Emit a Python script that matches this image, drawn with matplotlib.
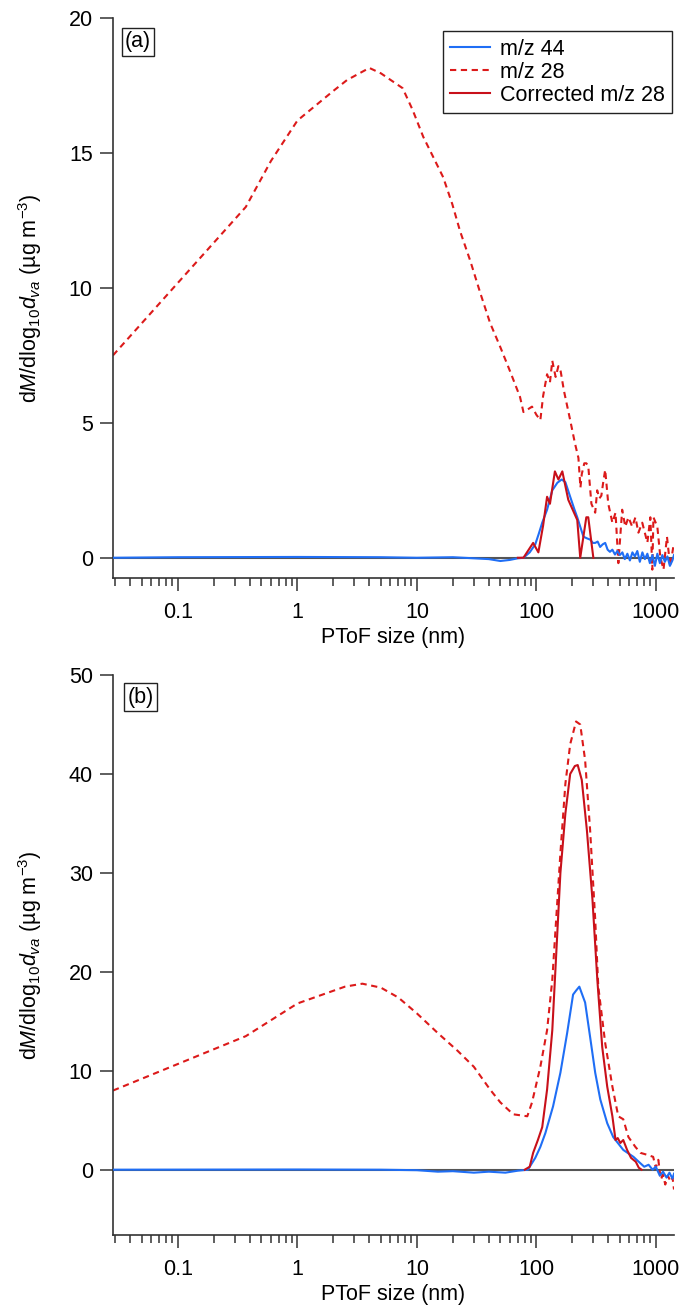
import matplotlib
matplotlib.use("Agg")
import matplotlib.pyplot as plt
from matplotlib.ticker import LogLocator, FixedLocator, NullFormatter

plt.rcParams['font.family'] = ['Liberation Sans', 'DejaVu Sans']
plt.rcParams['mathtext.fontset'] = 'custom'
plt.rcParams['mathtext.rm'] = 'Liberation Sans'
plt.rcParams['mathtext.it'] = 'Liberation Sans:italic'
plt.rcParams['mathtext.bf'] = 'Liberation Sans:bold'

# ---------------- data: panel (a) ----------------
a_x44 = [0.0286, 0.1, 1, 5, 10, 20, 30, 40, 50, 60, 70, 78, 88, 98, 105, 112,
         123, 136, 150, 163, 175, 192, 208, 220, 235, 248, 265, 283, 297, 311,
         326, 342, 360, 377, 395, 413, 433, 455, 477, 500, 525, 550, 578, 607,
         637, 668, 700, 735, 772, 810, 850, 892, 936, 983, 1030, 1082, 1135,
         1192, 1250, 1312, 1377, 1420]
a_y44 = [0.0, 0.02, 0.03, 0.02, 0.0, 0.02, -0.02, -0.05, -0.12, -0.08, -0.02, 0.0,
         0.2, 0.5, 0.9, 1.3, 1.78, 2.5, 2.78, 2.9, 2.8, 2.26, 1.8, 1.5, 1.1, 0.78,
         0.72, 0.67, 0.55, 0.55, 0.6, 0.4, 0.5, 0.55, 0.3, 0.22, 0.3, 0.12, 0.25,
         0.1, 0.2, -0.05, 0.15, -0.1, 0.2, 0.05, 0.25, -0.15, 0.2, -0.05, 0.15,
         -0.2, 0.1, -0.3, 0.15, -0.2, 0.1, -0.15, 0.05, -0.3, -0.1, 0.1]

a_x28 = [0.0286, 0.37, 0.6, 1.0, 2.0, 2.6, 4.0, 5.0, 7.6, 9.2,
         11.3, 13.7, 16.6, 19.8, 23, 28, 34, 41, 50, 61,
         73, 78, 85, 92, 100, 108, 114, 123, 130, 136,
         145, 153, 160, 170, 192, 210, 225, 234, 240, 252,
         262, 272, 289, 311, 323, 337, 350, 363, 377, 400,
         433, 460, 486, 523, 555, 590, 635, 675, 715, 770,
         850, 900, 935, 955, 1030, 1090, 1160, 1240, 1320, 1400]
a_y28 = [7.5, 13.0, 14.7, 16.2, 17.3, 17.7, 18.15, 17.95, 17.4, 16.6,
         15.6, 14.85, 14.1, 13.1, 12.1, 11.0, 9.8, 8.7, 7.8, 6.85,
         5.96, 5.4, 5.5, 5.6, 5.3, 5.1, 6.0, 6.8, 6.5, 7.3,
         6.7, 7.1, 6.9, 6.2, 5.1, 4.26, 3.7, 2.6, 3.1, 3.5,
         3.5, 3.4, 2.0, 1.67, 2.5, 2.2, 2.3, 2.8, 3.26, 2.0,
         1.3, 1.67, -0.2, 1.78, 1.15, 1.5, 1.15, 1.5, 0.93, 1.3,
         0.56, 1.5, -0.44, 1.5, 1.15, 0.04, -0.44, 0.78, -0.33, 0.4]

a_xc28 = [70, 78, 94, 104, 114, 123, 130, 143, 153, 165, 185, 220, 233,
          262, 272, 300]
a_yc28 = [0.0, 0.0, 0.55, 0.2, 1.2, 2.26, 2.0, 3.2, 2.9, 3.2, 2.15, 1.4, 0.0,
          1.5, 1.5, 0.0]

# ---------------- data: panel (b) ----------------
b_x44 = [0.0286, 1, 5, 10, 15, 20, 30, 40, 55, 70, 85, 98, 108, 119, 138, 159,
         181, 203, 215, 229, 256, 282, 311, 343, 392, 440, 534, 650, 720, 800,
         870, 940, 1000, 1080, 1150, 1230, 1300, 1380, 1420]
b_y44 = [0.0, 0.02, 0.0, -0.05, -0.2, -0.15, -0.3, -0.2, -0.3, -0.1, 0.0, 1.2,
         2.3, 3.7, 6.4, 9.8, 13.8, 17.7, 18.1, 18.5, 16.9, 13.4, 9.8, 7.1, 4.7,
         3.3, 2.0, 1.3, 0.8, 0.3, 0.5, 0.0, 0.3, -0.6, -0.2, -0.8, -0.3, -0.9, -0.4]

b_x28 = [0.0286, 0.37, 1.0, 2.5, 3.5, 5.0, 7.0, 10, 15, 22,
         30, 41, 50, 64, 84, 92, 108, 123, 136, 159,
         175, 192, 215, 233, 256, 282, 311, 330, 377, 433,
         485, 534, 590, 675, 745, 850, 950, 1000, 1050, 1100,
         1150, 1200, 1260, 1330, 1380, 1420]
b_y28 = [8.0, 13.5, 16.8, 18.5, 18.8, 18.4, 17.4, 15.8, 13.8, 12.0,
         10.4, 8.1, 6.8, 5.6, 5.4, 6.8, 10.4, 14.1, 19.2, 32.0,
         39.0, 43.0, 45.3, 45.0, 41.4, 34.3, 25.3, 18.5, 12.8, 8.4,
         5.4, 5.1, 3.3, 2.3, 1.7, 1.5, 1.3, 0.2, 1.0, -1.0,
         -0.5, -1.5, -0.6, -1.2, -0.8, -2.0]

b_xc28 = [80, 88, 94, 103, 112, 123, 136, 143, 159, 175, 192, 210, 222, 240,
          265, 295, 324, 356, 392, 433, 460, 480, 505, 534, 575, 620, 680, 720,
          760]
b_yc28 = [0.0, 0.3, 1.7, 3.0, 4.3, 8.1, 14.1, 19.2, 30.0, 36.0, 40.0, 40.8,
          40.9, 39.4, 34.3, 27.3, 19.2, 12.4, 8.4, 5.4, 3.0, 3.2, 2.7, 3.0, 2.0,
          1.2, 0.8, 0.2, 0.0]

x_ticks = [0.1, 1, 10, 100, 1000]
x_ticklabels = ['0.1', '1', '10', '100', '1000']
a_yticks = [0, 5, 10, 15, 20]
b_yticks = [0, 10, 20, 30, 40, 50]
legend_labels = ['m/z 44', 'm/z 28', 'Corrected m/z 28']

BLUE = '#1f6ef5'
RED = '#c8101a'
RED_D = '#dc1a1a'
FS = 15.5

W, H = 684, 1310
fig = plt.figure(figsize=(W / 100, H / 100), dpi=100)


def add_ax(top_px, bottom_px):
    left, right = 113, 674
    return fig.add_axes([left / W, 1 - bottom_px / H, (right - left) / W,
                         (bottom_px - top_px) / H])


ylabel = r'd$\mathit{M}$/dlog$_{10}$$\mathit{d}_{\mathit{va}}$ (µg m$^{-3}$)'


def style(ax, ylim, yticks, tag, tag_xy):
    ax.set_xscale('log')
    ax.set_xlim(0.0286, 1420)
    ax.set_ylim(*ylim)
    ax.axhline(0, color='#555555', lw=1.5, zorder=1)
    for s in ('top', 'right'):
        ax.spines[s].set_visible(False)
    for s in ('left', 'bottom'):
        ax.spines[s].set_color('#333333')
        ax.spines[s].set_linewidth(1.2)
    ax.spines['left'].set_bounds(ylim[0], yticks[-1])
    ax.xaxis.set_major_locator(FixedLocator(x_ticks))
    ax.set_xticklabels(x_ticklabels)
    ax.xaxis.set_minor_locator(LogLocator(base=10, subs=range(2, 10), numticks=20))
    ax.xaxis.set_minor_formatter(NullFormatter())
    ax.set_yticks(yticks)
    ax.tick_params(axis='both', which='major', direction='out', length=9.5,
                   width=1.1, color='#333333', labelsize=FS)
    ax.tick_params(axis='x', which='major', pad=8)
    ax.tick_params(axis='y', which='major', pad=5)
    ax.tick_params(axis='x', which='minor', direction='out', length=5.5,
                   width=1.1, color='#333333')
    ax.set_xlabel('PToF size (nm)', fontsize=FS, labelpad=3)
    ax.set_ylabel(ylabel, fontsize=FS)
    ax.yaxis.set_label_coords(-0.123, 0.5)
    fig.text(tag_xy[0] / W, 1 - tag_xy[1] / H, tag, fontsize=FS, ha='center',
             va='center',
             bbox=dict(boxstyle='square,pad=0.15', fc='white', ec='#222222', lw=1.0))


dash = (3.0, 2.2)

# panel (a)
axa = add_ax(18, 578)
style(axa, (-0.75, 20), a_yticks, '(a)', (138, 42))
l1, = axa.plot(a_x44, a_y44, color=BLUE, lw=1.5, zorder=3)
l2, = axa.plot(a_x28, a_y28, color=RED_D, lw=1.5, ls=(0, dash), zorder=2)
l3, = axa.plot(a_xc28, a_yc28, color=RED, lw=1.5, zorder=4)
leg = axa.legend([l1, l2, l3], legend_labels, loc='upper right',
                 bbox_to_anchor=(672 / W, 1 - 31 / H), bbox_transform=fig.transFigure,
                 fontsize=FS, frameon=True, fancybox=False, framealpha=1,
                 edgecolor='#222222', labelspacing=0.1, handlelength=1.85,
                 handletextpad=0.45, borderpad=0.35, borderaxespad=0)
leg.get_frame().set_linewidth(1.0)

# panel (b)
axb = add_ax(675, 1235)
style(axb, (-6.6, 50), b_yticks, '(b)', (140.5, 697))
axb.plot(b_x44, b_y44, color=BLUE, lw=1.5, zorder=3)
axb.plot(b_x28, b_y28, color=RED_D, lw=1.5, ls=(0, dash), zorder=2)
axb.plot(b_xc28, b_yc28, color=RED, lw=1.5, zorder=4)

fig.savefig('out.png', dpi=100)
